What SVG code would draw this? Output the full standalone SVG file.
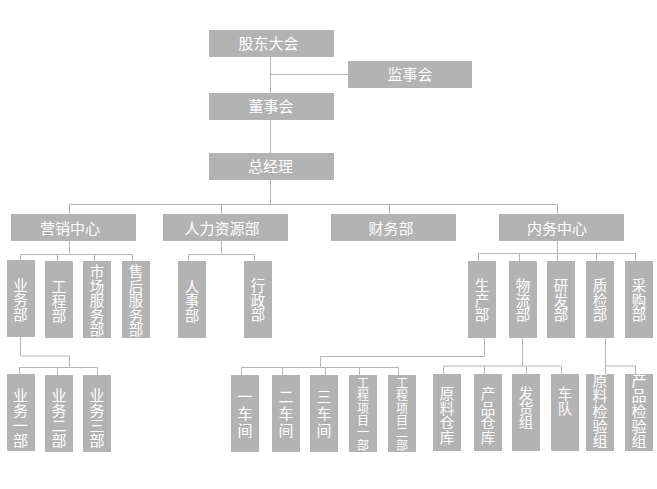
<svg xmlns="http://www.w3.org/2000/svg" width="657" height="489" viewBox="0 0 657 489">
<style>
.box{fill:#b4b3b3}
.t{font-family:"Noto Sans CJK SC","Noto Sans",sans-serif;fill:#ffffff;text-anchor:middle;font-size:15px}
.vt{writing-mode:vertical-rl;text-orientation:upright}
.v{font-size:14.5px}
.b{font-size:15px;letter-spacing:0.3px}
.c{font-size:15px;letter-spacing:1.7px}
.s{font-size:12px;letter-spacing:0.3px}
.st{text-anchor:start}
.ln{stroke:#b6b6b6;stroke-width:1;fill:none}
</style>
<rect width="657" height="489" fill="#ffffff"/>
<g id="connectors" class="ln">
<path d="M270.5 57V93M270.5 74.5H348M270.5 120V153M270.5 180V204.5"/>
<path d="M69.5 204.5H557.5M69.5 204.5V214M221.5 204.5V214M389.5 204.5V214M557.5 204.5V214"/>
<path d="M69.5 241V254.5M20.5 254.5H132.5M20.5 254.5V260M57.5 254.5V261M94.5 254.5V261M132.5 254.5V261"/>
<path d="M221.5 241V254.5M188.5 254.5H254.5M188.5 254.5V261M254.5 254.5V261"/>
<path d="M557.5 241V253.5M478.5 253.5H635.5M478.5 253.5V261M519.5 253.5V261M557.5 253.5V261M596.5 253.5V261M635.5 253.5V261"/>
<path d="M20.5 337V356H69.5V367.5M19.5 367.5H97.5M19.5 367.5V374M57.5 367.5V375M97.5 367.5V375"/>
<path d="M484.5 338V356.5H320.5V367.5M241.5 367.5H398.5M241.5 367.5V375M282.5 367.5V375M325.5 367.5V375M359.5 367.5V375M398.5 367.5V375"/>
<path d="M522.5 338V366M443.5 366H561.5M443.5 366V374M484.5 366V374M526.5 366V374M561.5 366V374"/>
<path d="M605.5 338V374M605.5 366H635.5V374"/>
</g>
<g id="gudong"><rect class="box" x="209" y="30" width="125" height="27"/><text class="t" x="268.5" y="49">股东大会</text></g>
<g id="jianshi"><rect class="box" x="348" y="61" width="124" height="27"/><text class="t" x="410" y="80">监事会</text></g>
<g id="dongshi"><rect class="box" x="209" y="93" width="125" height="27"/><text class="t" x="271" y="112">董事会</text></g>
<g id="zongjingli"><rect class="box" x="209" y="153" width="125" height="27"/><text class="t" x="270.5" y="172">总经理</text></g>
<g id="yingxiao"><rect class="box" x="11" y="214" width="125" height="27"/><text class="t" x="70" y="233.5">营销中心</text></g>
<g id="renli"><rect class="box" x="163" y="214" width="125" height="27"/><text class="t" x="222" y="233.5">人力资源部</text></g>
<g id="caiwu"><rect class="box" x="331" y="214" width="125" height="27"/><text class="t" x="391" y="233.5">财务部</text></g>
<g id="neiwu"><rect class="box" x="499" y="214" width="125" height="27"/><text class="t" x="557" y="233.5">内务中心</text></g>

<g id="yewubu"><rect class="box" x="7" y="260" width="28" height="77"/><text class="t vt v" x="20.5" y="299.5">业务部</text></g>
<g id="gongchengbu"><rect class="box" x="45" y="261" width="28" height="77"/><text class="t vt v" x="59" y="301">工程部</text></g>
<g id="shichang"><rect class="box" x="83" y="261" width="28" height="77"/><text class="t vt v" x="97" y="300.5">市场服务部</text></g>
<g id="shouhou"><rect class="box" x="122" y="261" width="28" height="77"/><text class="t vt v" x="136" y="300.5">售后服务部</text></g>
<g id="renshi"><rect class="box" x="178" y="261" width="28" height="77"/><text class="t vt v" x="192" y="300.5">人事部</text></g>
<g id="xingzheng"><rect class="box" x="244" y="261" width="28" height="77"/><text class="t vt v" x="258" y="300">行政部</text></g>
<g id="shengchan"><rect class="box" x="468" y="261" width="28" height="77"/><text class="t vt v" x="482" y="300">生产部</text></g>
<g id="wuliu"><rect class="box" x="509" y="261" width="28" height="77"/><text class="t vt v" x="523" y="300">物流部</text></g>
<g id="yanfa"><rect class="box" x="547" y="261" width="28" height="77"/><text class="t vt v" x="561" y="300">研发部</text></g>
<g id="zhijian"><rect class="box" x="586" y="261" width="28" height="77"/><text class="t vt v" x="600" y="300">质检部</text></g>
<g id="caigou"><rect class="box" x="625" y="261" width="28" height="77"/><text class="t vt v" x="639" y="300">采购部</text></g>

<g id="yewu1"><rect class="box" x="7" y="374" width="28" height="77"/><text class="t vt b" x="20.5" y="418">业务一部</text></g>
<g id="yewu2"><rect class="box" x="45" y="375" width="28" height="77"/><text class="t vt b" x="59" y="418">业务二部</text></g>
<g id="yewu3"><rect class="box" x="83" y="375" width="28" height="77"/><text class="t vt b" x="97" y="418">业务三部</text></g>
<g id="chejian1"><rect class="box" x="231" y="375" width="28" height="77"/><text class="t vt c" x="245" y="414">一车间</text></g>
<g id="chejian2"><rect class="box" x="272" y="375" width="28" height="77"/><text class="t vt c" x="286" y="414">二车间</text></g>
<g id="chejian3"><rect class="box" x="310" y="375" width="28" height="77"/><text class="t vt c" x="324" y="414">三车间</text></g>
<g id="gongcheng1"><rect class="box" x="349" y="375" width="28" height="77"/><text class="t vt s" x="363" y="414.5">工程项目一部</text></g>
<g id="gongcheng2"><rect class="box" x="388" y="375" width="28" height="77"/><text class="t vt s" x="402" y="414.5">工程项目二部</text></g>
<g id="yuanliaocangku"><rect class="box" x="433" y="374" width="28" height="77"/><text class="t vt v st" x="447" y="386.5">原料仓库</text></g>
<g id="chanpincangku"><rect class="box" x="474" y="374" width="28" height="77"/><text class="t vt v st" x="488" y="386.5">产品仓库</text></g>
<g id="fahuozu"><rect class="box" x="512" y="374" width="28" height="77"/><text class="t vt v st" x="526" y="386.5">发货组</text></g>
<g id="chedui"><rect class="box" x="551" y="374" width="28" height="77"/><text class="t vt v st" x="565" y="386.5">车队</text></g>
<g id="yuanliaojianyan"><rect class="box" x="586" y="374" width="28" height="77"/><text class="t vt b st" x="600" y="373">原料检验组</text></g>
<g id="chanpinjianyan"><rect class="box" x="625" y="374" width="28" height="77"/><text class="t vt b st" x="639" y="373">产品检验组</text></g>
</svg>
